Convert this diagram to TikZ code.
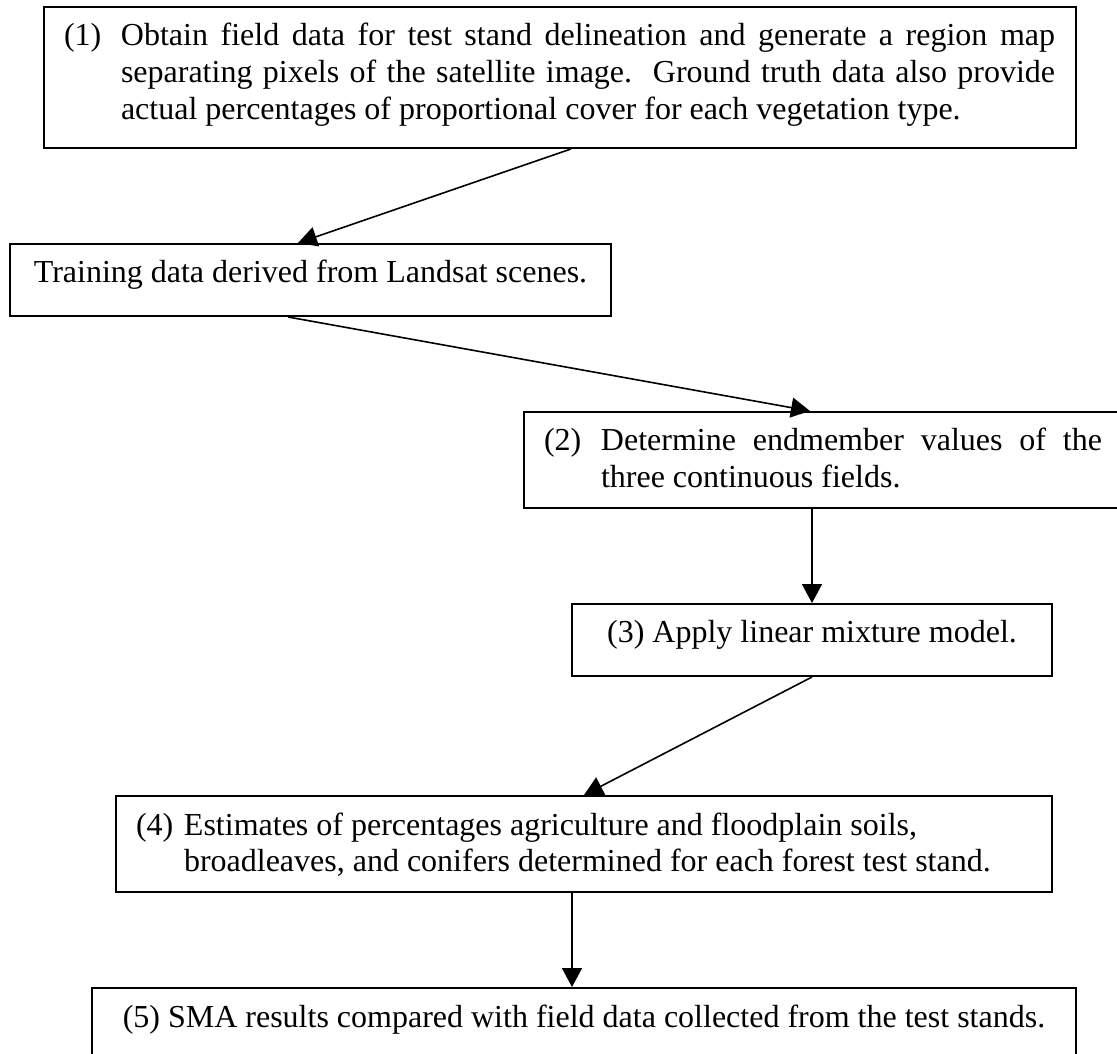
\documentclass[tikz,border=0pt]{standalone}
\usepackage{fontspec}
\setmainfont{Liberation Serif}
\usepackage{tikz}
\usetikzlibrary{arrows.meta}

\tikzset{
	stepbox/.style={draw, line width=0.75pt, anchor=north west, inner sep=0pt,
		font=\fontsize{12}{13.7}\selectfont\frenchspacing},
	flow/.style={line width=0.6pt, -{Triangle[length=7.1pt,width=7.5pt]}}
}
\newcommand{\topstrut}{\rule{0pt}{14.625pt}}

\begin{document}
\begin{tikzpicture}[x=0.375pt,y=-0.375pt]
	\useasboundingbox (0,0) rectangle (1117,1054);
	\node[stepbox] (b1) at (43,6) {\parbox[c][52.875pt][t]{387pt}{\topstrut\hspace*{7.5pt}\makebox[21.375pt][l]{(1)}\makebox[350.25pt][s]{Obtain field data for test stand delineation and generate a region map}\\
		\hspace*{28.875pt}\makebox[350.25pt][s]{separating pixels of the satellite image.\ \ Ground truth data also provide}\\
		\hspace*{28.875pt}actual percentages of proportional cover for each vegetation type.}};
	\node[stepbox] (b2) at (9,243) {\parbox[c][27pt][t]{225.375pt}{\centering\topstrut Training data derived from Landsat scenes.}};
	\node[stepbox] (b3) at (523,411) {\parbox[c][36pt][t]{223.875pt}{\topstrut\hspace*{7.5pt}\makebox[21.375pt][l]{(2)}\makebox[187.875pt][s]{Determine endmember values of the}\\
		\hspace*{28.875pt}three continuous fields.}};
	\node[stepbox] (b4) at (571,603) {\parbox[c][27pt][t]{180pt}{\centering\topstrut (3) Apply linear mixture model.}};
	\node[stepbox] (b5) at (115,795) {\parbox[c][36pt][t]{351pt}{\topstrut\hspace*{7.5pt}\makebox[18pt][l]{(4)}Estimates of percentages agriculture and floodplain soils,\\
		\hspace*{25.5pt}broadleaves, and conifers determined for each forest test stand.}};
	\node[stepbox] (b6) at (91,987) {\parbox[c][36pt][t]{369pt}{\centering\topstrut (5) SMA results compared with field data collected from the test stands.}};

	\draw[flow] ([xshift=4.1pt]b1.south) -- ([xshift=-4.7pt]b2.north);
	\draw[flow] ([xshift=-8.4pt]b2.south) -- ([xshift=-4.7pt]b3.north);
	\draw[flow] (b4.north |- b3.south) -- (b4.north);
	\draw[flow] (b4.south) -- (b5.north);
	\draw[flow] ([xshift=-4.5pt]b5.south) -- ([xshift=-4.5pt]b6.north);
\end{tikzpicture}
\end{document}
